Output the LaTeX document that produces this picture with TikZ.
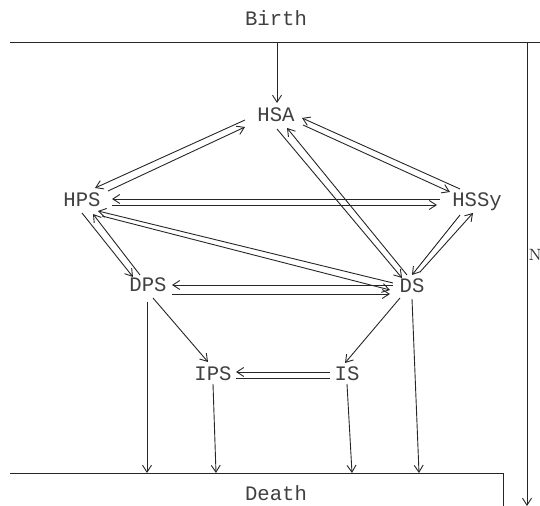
\documentclass[tikz,border=0pt]{standalone}
\usepackage{fontspec}
\newfontfamily\twfont{Liberation Mono}
\usetikzlibrary{arrows.meta}
\begin{document}
\begin{tikzpicture}[x=0.5pt,y=-0.5pt,
  state/.style={anchor=base,inner sep=0pt,text=black!75,font=\twfont\fontsize{10.3}{12}\selectfont},
  link/.style={draw=black!85,line width=0.45pt},
  flow/.style={link,-{Straight Barb[length=3.5pt,width=4.5pt]}},
  >={Straight Barb[length=3.5pt,width=4.5pt]}]
\useasboundingbox (0,0) rectangle (540,506);
\clip (0,0) rectangle (540,506);
% labels
\node[state] (birth) at (276,26) {Birth};
\node[state] (death) at (276,501) {Death};
\node[anchor=west,inner sep=0pt,text=black!80,font=\fontsize{8.2}{9}\selectfont] (nlab) at (528.2,255) {N};
% states
\node[state] (HSA) at (276,122) {HSA};
\node[state] (HPS) at (82,207) {HPS};
\node[state] (HSSy) at (477,207) {HSSy};
\node[state] (DPS) at (148,292) {DPS};
\node[state] (DS) at (412,293) {DS};
\node[state] (IPS) at (213,381) {IPS};
\node[state] (IS) at (347,381) {IS};
% frame coordinates
\coordinate (tl) at (10,42);
\coordinate (tr) at (540,42);
\coordinate (bpt) at (277,42);
\coordinate (dl) at (10,473);
\coordinate (dr) at (503,473);
\coordinate (drb) at (503,506);
\coordinate (rt) at (527,42);
\coordinate (rb) at (527,506);
\coordinate (d1) at (147,473);
\coordinate (d2) at (216,473);
\coordinate (d3) at (352,473);
\coordinate (d4) at (419,473);
% frame
\draw[link] (tl) -- (tr);
\draw[link] (dl) -- (dr) -- (drb);
\draw[flow] (rt) -- (rb);
% birth
\draw[flow] (bpt) -- ([shift={(1,-19)}]HSA.base);
% HSA <-> HPS
\draw[flow] ([shift={(-31,-2)}]HSA.base) -- ([shift={(13,-19)}]HPS.base);
\draw[flow] ([shift={(26,-16)}]HPS.base) -- ([shift={(-31,5)}]HSA.base);
% HSA <-> HSSy
\draw[flow] ([shift={(-17,-18)}]HSSy.base) -- ([shift={(26,-4)}]HSA.base);
\draw[flow] ([shift={(27,3)}]HSA.base) -- ([shift={(-27,-15)}]HSSy.base);
% HSA <-> DS
\draw[flow] ([shift={(1,7)}]HSA.base) -- ([shift={(-10,-15)}]DS.base);
\draw[flow] ([shift={(-5,-18)}]DS.base) -- ([shift={(11,6)}]HSA.base);
% HPS <-> HSSy
\draw[flow] ([shift={(-37,-8)}]HSSy.base) -- ([shift={(30,-8)}]HPS.base);
\draw[flow] ([shift={(30,-2)}]HPS.base) -- ([shift={(-40,-2)}]HSSy.base);
% HSSy <-> DS
\draw[flow] ([shift={(-17,8)}]HSSy.base) -- ([shift={(0,-18)}]DS.base);
\draw[flow] ([shift={(8,-21)}]DS.base) -- ([shift={(-4,6)}]HSSy.base);
% HPS <-> DS
\draw[flow] ([shift={(-19,-10)}]DS.base) -- ([shift={(16,4)}]HPS.base);
\draw[flow] ([shift={(20,9)}]HPS.base) -- ([shift={(-22,-3)}]DS.base);
% HPS <-> DPS
\draw[flow] ([shift={(0,6)}]HPS.base) -- ([shift={(-15,-15)}]DPS.base);
\draw[flow] ([shift={(-8,-17)}]DPS.base) -- ([shift={(11,7)}]HPS.base);
% DPS <-> DS
\draw[flow] ([shift={(-19,-8)}]DS.base) -- ([shift={(24,-7)}]DPS.base);
\draw[flow] ([shift={(24,2)}]DPS.base) -- ([shift={(-22,1)}]DS.base);
% to IPS / IS
\draw[flow] ([shift={(5,6)}]DPS.base) -- ([shift={(-5,-19)}]IPS.base);
\draw[flow] ([shift={(-12,5)}]DS.base) -- ([shift={(-2,-18)}]IS.base);
% IS => IPS
\draw[flow] ([shift={(-17,-9)}]IS.base) -- ([shift={(23,-9)}]IPS.base);
\draw[link] ([shift={(-17,-3)}]IS.base) -- ([shift={(23,-3)}]IPS.base);
% to death
\draw[flow] ([shift={(-1,10)}]DPS.base) -- (d1);
\draw[flow] ([shift={(0,3)}]IPS.base) -- (d2);
\draw[flow] ([shift={(0,3)}]IS.base) -- (d3);
\draw[flow] ([shift={(0,6)}]DS.base) -- (d4);
\end{tikzpicture}
\end{document}
